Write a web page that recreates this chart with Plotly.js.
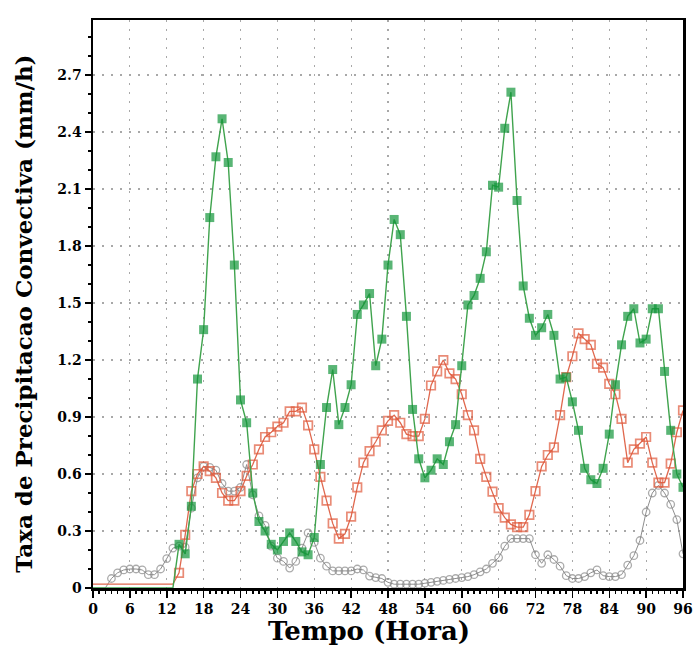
<!DOCTYPE html>
<html>
<head>
<meta charset="utf-8">
<script src="https://cdn.plot.ly/plotly-3.0.1.min.js"></script>
<style>
  html, body { margin: 0; padding: 0; background: #ffffff; }
  #chart { width: 697px; height: 648px; }
</style>
</head>
<body>
<div id="chart"></div>
<script>
// Time (hours)
const hours = [0,1,2,3,4,5,6,7,8,9,10,11,12,13,14,15,16,17,18,19,20,21,22,23,24,25,26,27,28,29,30,31,32,33,34,35,36,37,38,39,40,41,42,43,44,45,46,47,48,49,50,51,52,53,54,55,56,57,58,59,60,61,62,63,64,65,66,67,68,69,70,71,72,73,74,75,76,77,78,79,80,81,82,83,84,85,86,87,88,89,90,91,92,93,94,95,96];

// Green filled squares
const seriesGreen = [0,0,0,0,0,0,0,0,0,0,0,0,0,0,
  0.23,0.18,0.43,1.10,1.36,1.95,2.27,2.47,2.24,1.70,0.99,0.87,0.50,0.35,0.30,0.23,
  0.20,0.245,0.29,0.245,0.19,0.175,0.266,0.65,0.95,1.15,0.86,0.95,1.07,1.44,1.49,1.55,
  1.17,1.31,1.70,1.94,1.86,1.43,0.94,0.68,0.58,0.62,0.68,0.65,0.77,0.86,1.17,1.49,
  1.54,1.63,1.77,2.12,2.11,2.42,2.61,2.04,1.59,1.42,1.33,1.37,1.44,1.33,1.10,1.11,
  0.98,0.83,0.63,0.57,0.55,0.63,0.81,1.07,1.28,1.43,1.47,1.29,1.31,1.47,1.47,1.14,
  0.83,0.60,0.53];

// Red open squares
const seriesRed = [0.02,0.02,0.02,0.02,0.02,0.02,0.02,0.02,0.02,0.02,0.02,0.02,0.02,0.02,
  0.08,0.28,0.51,0.60,0.64,0.615,0.58,0.50,0.46,0.46,0.51,0.59,0.65,0.73,0.795,0.82,
  0.85,0.87,0.93,0.93,0.95,0.856,0.73,0.585,0.46,0.34,0.26,0.285,0.376,0.53,0.66,0.72,
  0.77,0.83,0.88,0.91,0.87,0.81,0.80,0.80,0.89,1.066,1.14,1.20,1.13,1.10,1.02,0.91,
  0.83,0.68,0.585,0.507,0.42,0.37,0.335,0.32,0.32,0.385,0.51,0.64,0.70,0.74,0.91,1.11,
  1.22,1.34,1.31,1.28,1.18,1.16,1.075,1.02,0.89,0.66,0.73,0.76,0.795,0.66,0.555,0.555,
  0.655,0.82,0.935];

// Gray open circles
const seriesGray = [0,0,0,0.05,0.08,0.095,0.10,0.10,0.095,0.07,0.07,0.10,0.155,0.21,
  0.22,0.215,0.42,0.58,0.64,0.635,0.62,0.55,0.51,0.51,0.53,0.65,0.49,0.38,0.33,0.22,
  0.157,0.14,0.105,0.14,0.21,0.29,0.24,0.157,0.115,0.09,0.09,0.09,0.09,0.10,0.095,0.063,
  0.055,0.05,0.03,0.02,0.02,0.02,0.02,0.02,0.025,0.03,0.035,0.04,0.045,0.05,0.055,0.06,
  0.07,0.085,0.10,0.13,0.16,0.22,0.26,0.26,0.26,0.26,0.175,0.13,0.175,0.15,0.115,0.065,
  0.05,0.05,0.06,0.08,0.095,0.065,0.06,0.06,0.07,0.12,0.17,0.25,0.40,0.50,0.54,0.50,
  0.44,0.36,0.18];

const xTickVals = [0,6,12,18,24,30,36,42,48,54,60,66,72,78,84,90,96];
const yTickVals = [0,0.3,0.6,0.9,1.2,1.5,1.8,2.1,2.4,2.7];
const yTickText = ["0","0.3","0.6","0.9","1.2","1.5","1.8","2.1","2.4","2.7"];

const xTitle = "Tempo (Hora)";
const yTitle = "Taxa de Precipitacao Convectiva (mm/h)";

// hide markers on the initial flat (no-rain) segment
const redSizes = seriesRed.map((v, i) => (i < 14 ? 0 : 8.5));
const graySizes = seriesGray.map((v, i) => (i < 3 ? 0 : 7.5));
const greenSizes = seriesGreen.map((v, i) => (i < 14 ? 0 : 9));

const traces = [
  {
    x: hours, y: seriesGray, type: 'scatter', mode: 'lines+markers',
    line: { color: '#8e8e8e', width: 1 },
    marker: { symbol: 'circle-open', size: graySizes, color: '#888888', line: { width: 1.3, color: '#888888' } },
    showlegend: false, hoverinfo: 'skip'
  },
  {
    x: hours, y: seriesRed, type: 'scatter', mode: 'lines+markers',
    line: { color: '#e0684e', width: 1.3 },
    marker: { symbol: 'square-open', size: redSizes, color: '#e05a3c', line: { width: 1.7, color: '#e05a3c' } },
    showlegend: false, hoverinfo: 'skip'
  },
  {
    x: hours, y: seriesGreen, type: 'scatter', mode: 'lines+markers',
    line: { color: '#3fa34d', width: 1.4 },
    marker: { symbol: 'square', size: greenSizes, color: '#13953a', line: { width: 0 } },
    showlegend: false, hoverinfo: 'skip'
  }
];

const axisFont = { family: 'DejaVu Serif', size: 14, color: '#000000', weight: 'bold' };

const layout = {
  width: 697, height: 648,
  margin: { l: 93, r: 14, t: 20, b: 60 },
  paper_bgcolor: '#ffffff', plot_bgcolor: '#ffffff',
  showlegend: false,
  xaxis: {
    range: [0, 96],
    tickvals: xTickVals,
    ticks: 'outside', ticklen: 7, tickwidth: 1.5, tickcolor: '#000',
    minor: { dtick: 1, ticks: 'outside', ticklen: 3, tickcolor: '#000', showgrid: false },
    showline: true, linecolor: '#000', linewidth: 2.5, mirror: true,
    showgrid: true, gridcolor: '#a8a8a8', griddash: '2px,7px', gridwidth: 1.2,
    zeroline: false,
    tickfont: axisFont
  },
  yaxis: {
    range: [0, 2.99],
    tickvals: yTickVals, ticktext: yTickText,
    ticks: 'outside', ticklen: 6, tickwidth: 1.5, tickcolor: '#000',
    minor: { dtick: 0.1, ticks: 'outside', ticklen: 3, tickcolor: '#000', showgrid: false },
    showline: true, linecolor: '#000', linewidth: 2.5, mirror: true,
    showgrid: true, gridcolor: '#a8a8a8', griddash: '2px,7px', gridwidth: 1.2,
    zeroline: false,
    tickfont: axisFont
  },
  annotations: [
    {
      text: xTitle, xref: 'paper', yref: 'paper', x: 0.468, y: -0.076,
      xanchor: 'center', yanchor: 'middle', showarrow: false,
      font: { family: 'DejaVu Serif', size: 26, color: '#000', weight: 'bold' }
    },
    {
      text: yTitle, xref: 'paper', yref: 'paper', x: -0.117, y: 0.483,
      xanchor: 'center', yanchor: 'middle', showarrow: false, textangle: -90,
      font: { family: 'DejaVu Serif', size: 23, color: '#000', weight: 'bold' }
    }
  ]
};

Plotly.newPlot('chart', traces, layout, { displayModeBar: false, staticPlot: true });
</script>
</body>
</html>
